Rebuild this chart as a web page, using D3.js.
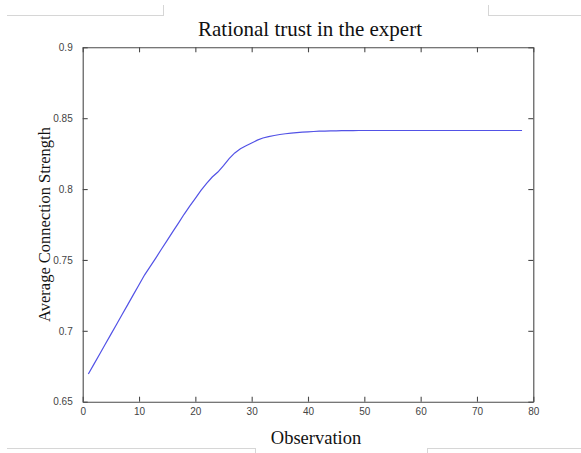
<!DOCTYPE html>
<html lang="en">
<head>
    <meta charset="utf-8">
    <script src="https://d3js.org/d3.v7.min.js"></script>
</head>
<body style="margin:0;background:#fff;">
<style>
    .tick text {
        font-family: "Liberation Sans", Arial, sans-serif;
        font-size: 10px;
        fill: #444;
    }
    .axis path, .axis line {
        stroke: #4a4a4a;
        stroke-width: 1.1px;
    }
    .serif {
        font-family: "Liberation Serif", "Times New Roman", serif;
        fill: #111;
    }
</style>
<svg></svg>
</body>
<script>
    const width = 581;
    const height = 453;

    const observations = [
        1, 2, 3, 4, 5, 6, 7, 8, 9, 10, 11, 12, 13, 14, 15, 16, 17, 18, 19, 20,
        21, 22, 23, 24, 25, 26, 27, 28, 29, 30, 31, 32, 33, 34, 35, 36, 37, 38, 39, 40,
        41, 42, 43, 44, 45, 46, 47, 48, 49, 50, 51, 52, 53, 54, 55, 56, 57, 58, 59, 60,
        61, 62, 63, 64, 65, 66, 67, 68, 69, 70, 71, 72, 73, 74, 75, 76, 77, 78
    ];
    const strength = [
        0.6695, 0.6765, 0.6835, 0.6905, 0.6975, 0.7045, 0.7115, 0.7185, 0.7255, 0.7325,
        0.7395, 0.7455, 0.7515, 0.7577, 0.7638, 0.7700, 0.7760, 0.7822, 0.7880, 0.7935,
        0.7990, 0.8040, 0.8085, 0.8120, 0.8165, 0.8215, 0.8255, 0.8285, 0.8305, 0.8325,
        0.8345, 0.8360, 0.8370, 0.8378, 0.8385, 0.8390, 0.8395, 0.8398, 0.8401, 0.8404,
        0.8406, 0.8408, 0.8409, 0.8410, 0.8411, 0.8412, 0.8412, 0.8412, 0.8413, 0.8413,
        0.8413, 0.8413, 0.8413, 0.8413, 0.8413, 0.8413, 0.8413, 0.8413, 0.8413, 0.8413,
        0.8413, 0.8413, 0.8413, 0.8413, 0.8413, 0.8413, 0.8413, 0.8413, 0.8413, 0.8413,
        0.8413, 0.8413, 0.8413, 0.8413, 0.8413, 0.8413, 0.8413, 0.8413
    ];
    const xTicks = [0, 10, 20, 30, 40, 50, 60, 70, 80];
    const yTicks = [0.65, 0.7, 0.75, 0.8, 0.85, 0.9];

    const svg = d3.select('svg')
        .attr('width', width)
        .attr('height', height);

    const plotLeft = 82.7, plotRight = 533.3, plotTop = 47.3, plotBottom = 401.7;

    const x = d3.scaleLinear().domain([0, 80]).range([plotLeft, plotRight]);
    const y = d3.scaleLinear().domain([0.65, 0.9]).range([plotBottom, plotTop]);

    // faint page frame lines from the source document
    const deco = svg.append('g').attr('stroke', '#d6d6d6').attr('stroke-width', 1);
    deco.append('line').attr('x1', 7).attr('x2', 163).attr('y1', 15.5).attr('y2', 15.5);
    deco.append('line').attr('x1', 163.5).attr('x2', 163.5).attr('y1', 5).attr('y2', 16);
    deco.append('line').attr('x1', 489).attr('x2', 581).attr('y1', 15.5).attr('y2', 15.5);
    deco.append('line').attr('x1', 488.5).attr('x2', 488.5).attr('y1', 5).attr('y2', 16);
    deco.append('line').attr('x1', 7).attr('x2', 255).attr('y1', 448.5).attr('y2', 448.5);
    deco.append('line').attr('x1', 255.5).attr('x2', 255.5).attr('y1', 448).attr('y2', 453);
    deco.append('line').attr('x1', 428).attr('x2', 581).attr('y1', 448.5).attr('y2', 448.5);
    deco.append('line').attr('x1', 427.5).attr('x2', 427.5).attr('y1', 448).attr('y2', 453);

    const fmt = (d) => String(+d.toFixed(2));

    // MATLAB style box with inward ticks on all four sides
    svg.append('g').attr('class', 'axis')
        .attr('transform', `translate(0,${plotBottom})`)
        .call(d3.axisBottom(x).tickValues(xTicks).tickSizeInner(-5).tickSizeOuter(0).tickPadding(6).tickFormat(d3.format('d')));
    svg.append('g').attr('class', 'axis')
        .attr('transform', `translate(0,${plotTop})`)
        .call(d3.axisTop(x).tickValues(xTicks).tickSizeInner(-5).tickSizeOuter(0).tickFormat(''));
    svg.append('g').attr('class', 'axis')
        .attr('transform', `translate(${plotLeft},0)`)
        .call(d3.axisLeft(y).tickValues(yTicks).tickSizeInner(-5).tickSizeOuter(0).tickPadding(10).tickFormat(fmt));
    svg.append('g').attr('class', 'axis')
        .attr('transform', `translate(${plotRight},0)`)
        .call(d3.axisRight(y).tickValues(yTicks).tickSizeInner(-5).tickSizeOuter(0).tickFormat(''));

    const line = d3.line()
        .x((d, i) => x(observations[i]))
        .y((d) => y(d));

    svg.append('path')
        .datum(strength)
        .attr('fill', 'none')
        .attr('stroke', '#5252e6')
        .attr('stroke-width', 1.2)
        .attr('d', line);

    svg.append('text').attr('class', 'serif')
        .attr('x', (plotLeft + plotRight) / 2 + 2)
        .attr('y', 36)
        .attr('text-anchor', 'middle')
        .style('font-size', '21px')
        .text('Rational trust in the expert');

    svg.append('text').attr('class', 'serif')
        .attr('x', 316)
        .attr('y', 444)
        .attr('text-anchor', 'middle')
        .style('font-size', '18.5px')
        .text('Observation');

    svg.append('text').attr('class', 'serif')
        .attr('transform', `translate(50,${(plotTop + plotBottom) / 2}) rotate(-90)`)
        .attr('text-anchor', 'middle')
        .style('font-size', '16.5px')
        .text('Average Connection Strength');
</script>
</html>
